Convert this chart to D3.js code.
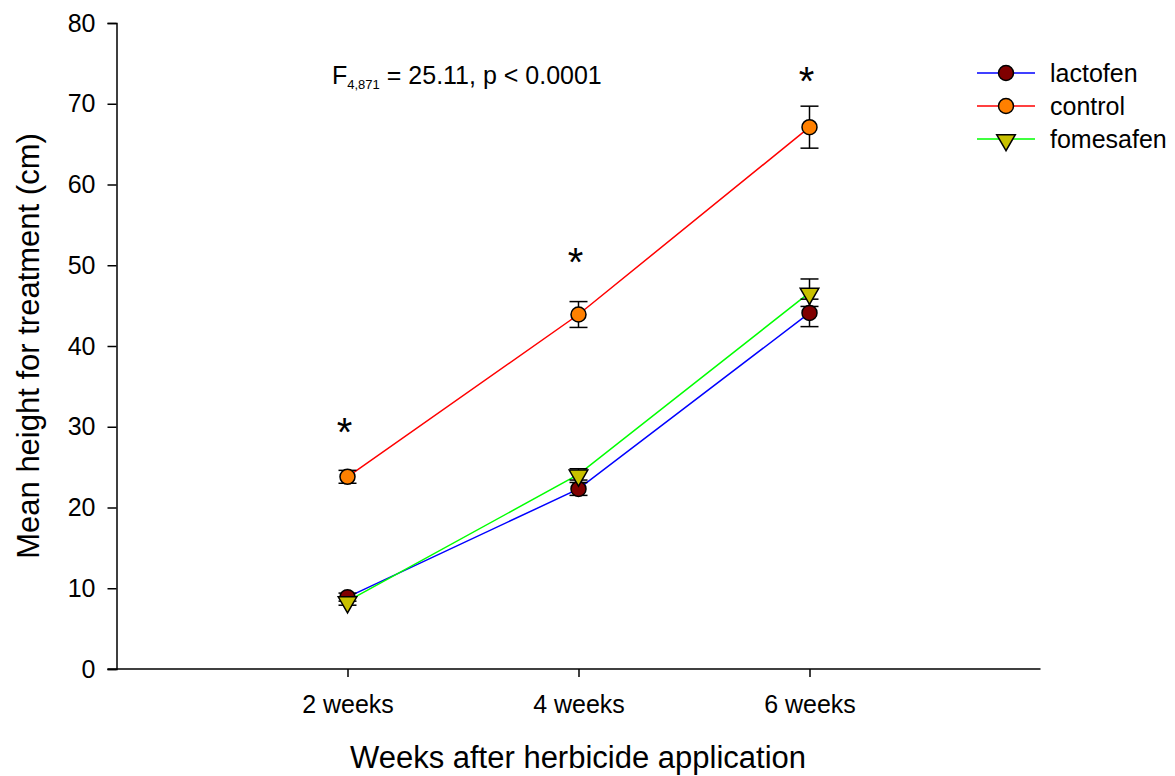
<!DOCTYPE html>
<html>
<head>
<meta charset="utf-8">
<script src="https://cdn.jsdelivr.net/npm/d3@7"></script>
<style>
  html, body { margin: 0; padding: 0; background: #fff; }
  svg { display: block; font-family: "Liberation Sans", Arial, sans-serif; }
</style>
</head>
<body>
<svg id="chart" width="1175" height="776"></svg>
<script>
// Treatment weeks (x categories) and y tick values
const weeks = ["2 weeks", "4 weeks", "6 weeks"];
const yTicks = [0, 10, 20, 30, 40, 50, 60, 70, 80];

// Mean plant height (cm) and standard error per treatment
const lactofen = [8.9, 22.3, 44.1];
const lactofenErr = [0.5, 0.8, 1.7];
const control = [23.8, 43.9, 67.1];
const controlErr = [0.8, 1.6, 2.6];
const fomesafen = [8.4, 24.1, 46.6];
const fomesafenErr = [0.5, 0.7, 1.7];

// Asterisks marking significant differences at each week (height of the star)
const asteriskY = [30.0, 51.0, 73.4];

const series = [
  { name: "lactofen", values: lactofen, errs: lactofenErr, line: "#0000ff", fill: "#800000", shape: "circle" },
  { name: "control", values: control, errs: controlErr, line: "#ff0000", fill: "#ff8000", shape: "circle" },
  { name: "fomesafen", values: fomesafen, errs: fomesafenErr, line: "#00ff00", fill: "#c8c000", shape: "triangle" }
];

const FONT = "Liberation Sans, Arial, sans-serif";
const svg = d3.select("#chart");

const x = d3.scaleLinear().domain([0, 4]).range([116.5, 1040.5]);
const y = d3.scaleLinear().domain([0, 80]).range([669, 23]);

// Y axis
const yAxis = svg.append("g")
  .attr("transform", `translate(${x(0)},0)`)
  .call(d3.axisLeft(y).tickValues(yTicks).tickSize(9).tickPadding(12));
yAxis.attr("font-size", 25).attr("font-family", FONT);
yAxis.select(".domain").attr("stroke", "#000").attr("stroke-width", 1.5);
yAxis.selectAll(".tick line").attr("stroke", "#000").attr("stroke-width", 1.5);
yAxis.selectAll(".tick text").attr("fill", "#000");

// X axis
const xAxis = svg.append("g")
  .attr("transform", `translate(0,${y(0)})`)
  .call(d3.axisBottom(x).tickValues([1, 2, 3])
    .tickFormat(d => weeks[d - 1]).tickSize(8).tickSizeOuter(0).tickPadding(18));
xAxis.attr("font-size", 25).attr("font-family", FONT);
xAxis.select(".domain").attr("stroke", "#000").attr("stroke-width", 1.5)
  .attr("d", `M${x(0) - 9},0H${x(4)}`);
xAxis.selectAll(".tick line").attr("stroke", "#000").attr("stroke-width", 1.5);
xAxis.selectAll(".tick text").attr("fill", "#000");

// Axis titles
svg.append("text")
  .attr("x", 578).attr("y", 768)
  .attr("text-anchor", "middle")
  .attr("font-size", 31)
  .text("Weeks after herbicide application");

svg.append("text")
  .attr("transform", `translate(39,${y(40)}) rotate(-90)`)
  .attr("text-anchor", "middle")
  .attr("font-size", 31)
  .text("Mean height for treatment (cm)");

// Statistic annotation
const ann = svg.append("text")
  .attr("x", 332).attr("y", 84)
  .attr("font-size", 25);
ann.append("tspan").text("F");
ann.append("tspan").attr("font-size", 13).attr("dy", 5).text("4,871");
ann.append("tspan").attr("dy", -5).text(" = 25.11, p < 0.0001");

const tri = d3.symbol().type(d3.symbolTriangle).size(150);

function drawMarker(g, s, cx, cy) {
  if (s.shape === "circle") {
    g.append("circle")
      .attr("cx", cx).attr("cy", cy).attr("r", 7.5)
      .attr("fill", s.fill).attr("stroke", "#000").attr("stroke-width", 1.5);
  } else {
    g.append("path")
      .attr("d", tri)
      .attr("transform", `translate(${cx},${cy + 1}) rotate(180)`)
      .attr("fill", s.fill).attr("stroke", "#000").attr("stroke-width", 1.5);
  }
}

const line = d3.line().x((d, i) => x(i + 1)).y(d => y(d));

// Lines
series.forEach(s => {
  svg.append("path")
    .attr("d", line(s.values))
    .attr("fill", "none").attr("stroke", s.line).attr("stroke-width", 1.5);
});

// Error bars
series.forEach(s => {
  const g = svg.append("g").attr("stroke", "#000").attr("stroke-width", 1.5);
  s.values.forEach((v, i) => {
    const cx = x(i + 1);
    const top = y(v + s.errs[i]), bot = y(v - s.errs[i]);
    g.append("line").attr("x1", cx).attr("x2", cx).attr("y1", top).attr("y2", bot);
    g.append("line").attr("x1", cx - 9).attr("x2", cx + 9).attr("y1", top).attr("y2", top);
    g.append("line").attr("x1", cx - 9).attr("x2", cx + 9).attr("y1", bot).attr("y2", bot);
  });
});

// Markers
series.forEach(s => {
  const g = svg.append("g");
  s.values.forEach((v, i) => drawMarker(g, s, x(i + 1), y(v)));
});

// Significance asterisks
svg.selectAll(".ast").data(asteriskY).enter().append("text")
  .attr("class", "ast")
  .attr("x", (d, i) => x(i + 1) - 3)
  .attr("y", d => y(d) + 19)
  .attr("text-anchor", "middle")
  .attr("font-size", 40)
  .text("*");

// Legend
const legend = svg.append("g");
series.forEach((s, i) => {
  const ly = 73 + i * 33;
  legend.append("line")
    .attr("x1", 977).attr("x2", 1035).attr("y1", ly).attr("y2", ly)
    .attr("stroke", s.line).attr("stroke-width", 1.5);
  drawMarker(legend, s, 1006, ly);
  legend.append("text")
    .attr("x", 1050).attr("y", ly + 9)
    .attr("font-size", 25)
    .text(s.name);
});
</script>
</body>
</html>
